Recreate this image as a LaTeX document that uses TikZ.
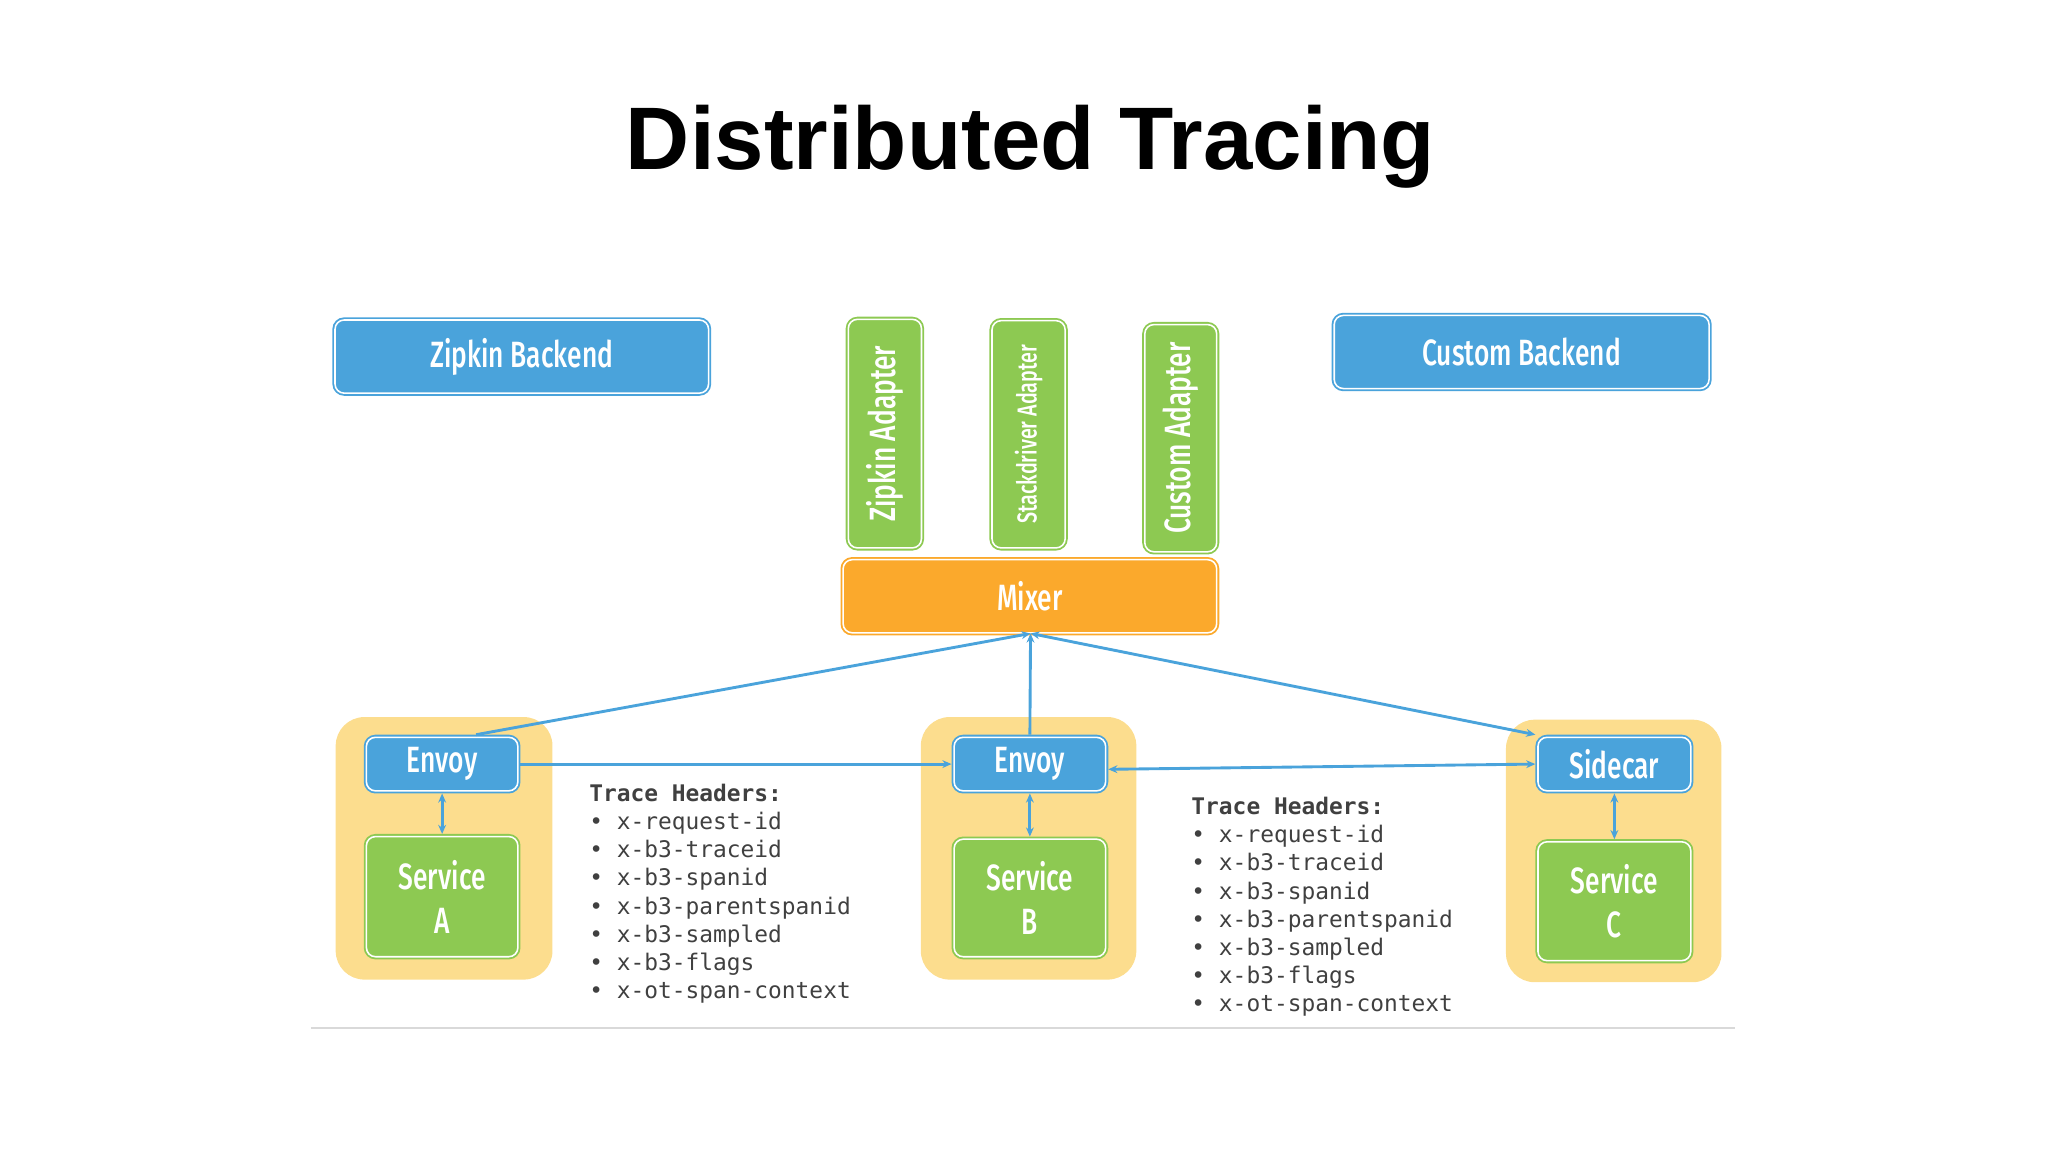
\documentclass[tikz,border=0pt]{standalone}
\usepackage{fontspec}
\setmainfont{Liberation Sans}
\newfontfamily\cond{Fira Sans Medium}[FakeStretch=0.72]
\newfontfamily\mono{DejaVu Sans Mono}
\usetikzlibrary{arrows.meta}
\definecolor{bl}{HTML}{4AA3DB}
\definecolor{gr}{HTML}{8DC952}
\definecolor{orn}{HTML}{FBA92C}
\definecolor{yel}{HTML}{FCDD8E}
\definecolor{ln}{HTML}{4AA3DB}
\begin{document}
\begin{tikzpicture}[x=1pt,y=-1pt,
 box/.style={draw=#1,fill=#1,line width=4pt,rounded corners=7pt,inner sep=0pt,
   text=white,font=\cond\fontsize{28}{30}\selectfont,
   postaction={draw=white,line width=1.2pt}},
 pod/.style={fill=yel,rounded corners=22pt},
 con/.style={draw=ln,line width=2.2pt,-{Stealth[length=7pt,width=6pt]}},
 con2/.style={draw=ln,line width=2.2pt,{Stealth[length=7pt,width=6pt]}-{Stealth[length=7pt,width=6pt]}},
 hdr/.style={align=left,anchor=north west,inner sep=0pt,font=\mono\fontsize{17.5}{21.6}\selectfont,text=black!75}]
\useasboundingbox (0,0) rectangle (1568,882);
\node (title) at (789,112) {\fontsize{68}{76}\selectfont\bfseries Distributed Tracing};
\draw[black!15,line width=1pt] (238,787) -- (1328,787);
% pods
\fill[pod] (257,549) rectangle (423,750);
\fill[pod] (705,549) rectangle (870,750);
\fill[pod] (1153,551) rectangle (1318,752);
% boxes
\node[box=bl,minimum width=286pt,minimum height=56pt] (zb) at (399.5,273) {Zipkin Backend};
\node[box=bl,minimum width=287pt,minimum height=56pt] (cb) at (1165,269.5) {Custom Backend};
\node[box=gr,minimum width=56pt,minimum height=175pt] (za) at (677.5,332) {\rotatebox{90}{Zipkin Adapter}};
\node[box=gr,minimum width=56pt,minimum height=174pt] (sa) at (787.5,332.5) {\rotatebox{90}{\fontsize{21}{24}\selectfont Stackdriver Adapter}};
\node[box=gr,minimum width=55pt,minimum height=174pt] (ca) at (904,335.5) {\rotatebox{90}{Custom Adapter}};
\node[box=orn,minimum width=286pt,minimum height=56pt] (mixer) at (788.5,456.5) {Mixer};
\node[box=bl,minimum width=116pt,minimum height=41pt] (ea) at (338.5,585) {Envoy};
\node[box=gr,minimum width=116pt,minimum height=92pt,align=center] (sva) at (338.5,686.5) {Service\\[4pt]A};
\node[box=bl,minimum width=116pt,minimum height=41pt] (eb) at (788.5,585) {Envoy};
\node[box=gr,minimum width=116pt,minimum height=90pt,align=center] (svb) at (788.5,687.5) {Service\\[4pt]B};
\node[box=bl,minimum width=117pt,minimum height=41pt] (sc) at (1236,585) {Sidecar};
\node[box=gr,minimum width=117pt,minimum height=91pt,align=center] (svc) at (1236,690) {Service\\[4pt]C};
% connectors
\coordinate (mb) at (789,485);
\draw[con] ([xshift=26pt]ea.north) -- (mb);
\draw[con] (eb.north) -- (mb);
\draw[con2] (sc.north west) -- (mb);
\draw[con] (ea.east) -- (eb.west);
\draw[con2] ([yshift=-4pt]eb.east) -- (sc.west);
\draw[con2] (ea.south) -- (sva.north);
\draw[con2] (eb.south) -- (svb.north);
\draw[con2] (sc.south) -- (svc.north);
% headers
\node[hdr] (h1) at (451,600) {\textbf{Trace Headers:}\\ \textbullet\ x-request-id\\ \textbullet\ x-b3-traceid\\ \textbullet\ x-b3-spanid\\ \textbullet\ x-b3-parentspanid\\ \textbullet\ x-b3-sampled\\ \textbullet\ x-b3-flags\\ \textbullet\ x-ot-span-context};
\node[hdr] (h2) at (912,610) {\textbf{Trace Headers:}\\ \textbullet\ x-request-id\\ \textbullet\ x-b3-traceid\\ \textbullet\ x-b3-spanid\\ \textbullet\ x-b3-parentspanid\\ \textbullet\ x-b3-sampled\\ \textbullet\ x-b3-flags\\ \textbullet\ x-ot-span-context};
\end{tikzpicture}
\end{document}
